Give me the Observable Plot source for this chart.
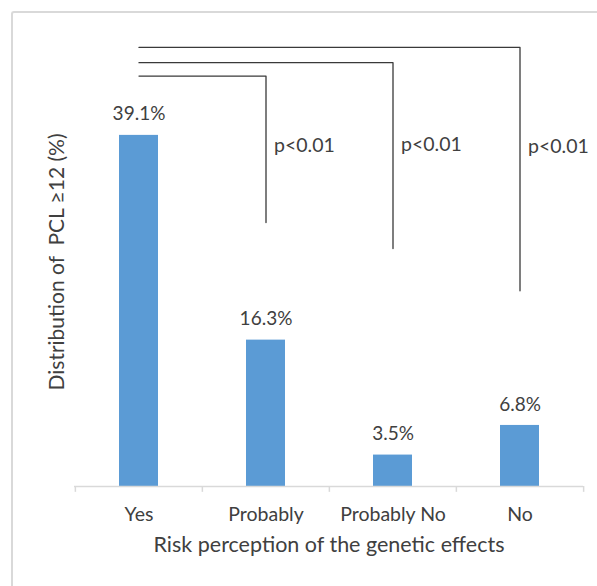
<!DOCTYPE html>
<html>
<head>
<meta charset="utf-8">
<script src="https://cdn.jsdelivr.net/npm/d3@7"></script>
<script src="https://cdn.jsdelivr.net/npm/@observablehq/plot@0.6"></script>
<style>
  html, body { margin: 0; padding: 0; background: #fff; overflow: hidden; }
  #wrap { position: relative; width: 597px; height: 586px; }
  #frame { position: absolute; left: 11px; top: 11px; width: 700px; height: 700px;
           border-left: 2px solid #d9d9d9; border-top: 2px solid #d9d9d9; border-top-left-radius: 3px; }
  #chart { position: absolute; left: 0; top: 0; }
</style>
</head>
<body>
<div id="wrap"><div id="frame"></div><div id="chart"></div></div>
<script>
const categories = ["Yes", "Probably", "Probably No", "No"];
const values = [39.1, 16.3, 3.5, 6.8];
const valueLabels = ["39.1%", "16.3%", "3.5%", "6.8%"];
const bracketFrom = "Yes";
const bracketTargets = ["Probably", "Probably No", "No"];
const bracketTop = [45.7, 47.2, 48.9];
const bracketBottom = [29.4, 26.5, 21.8];
const pLabels = ["p<0.01", "p<0.01", "p<0.01"];
const pLabelY = [37.9, 38.1, 37.8];
const xTitle = "Risk perception of the genetic effects";
const yTitle = "Distribution of  PCL \u226512 (%)";

const W = 597, H = 586, ML = 74, MR = 14, MT = 37, MB = 100;
const bw = (W - ML - MR) / categories.length;

const bars = categories.map((c, i) => ({cat: c, value: values[i], label: valueLabels[i]}));
const bracketPts = [];
bracketTargets.forEach((t, i) => {
  bracketPts.push({cat: bracketFrom, v: bracketTop[i], z: i});
  bracketPts.push({cat: t, v: bracketTop[i], z: i});
  bracketPts.push({cat: t, v: bracketBottom[i], z: i});
});
const pData = bracketTargets.map((t, i) => ({cat: t, v: pLabelY[i], label: pLabels[i]}));

const ink = "#404040";
const chart = Plot.plot({
  width: W, height: H,
  marginLeft: ML, marginRight: MR, marginTop: MT, marginBottom: MB,
  x: {domain: categories, padding: 0, axis: null},
  y: {domain: [0, 50], axis: null},
  style: {fontFamily: "Lato, sans-serif", color: ink, background: "transparent", overflow: "visible"},
  marks: [
    Plot.barY(bars, {x: "cat", y: "value", fill: "#5B9BD5", insetLeft: 44, insetRight: 44}),
    Plot.ruleY([0], {stroke: "#d9d9d9", strokeWidth: 1.5}),
    Plot.ruleX(categories, {x: d => d, y1: 0, y2: -0.65, dx: -bw / 2, stroke: "#d9d9d9", strokeWidth: 1.5}),
    Plot.ruleX(categories.slice(-1), {x: d => d, y1: 0, y2: -0.65, dx: bw / 2, stroke: "#d9d9d9", strokeWidth: 1.5}),
    Plot.text(bars, {x: "cat", y: "value", text: "label", dy: -21, fontSize: 19, fill: ink}),
    Plot.line(bracketPts, {x: "cat", y: "v", z: "z", stroke: "#3a3a3a", strokeWidth: 1.3, curve: "linear"}),
    Plot.text(pData, {x: "cat", y: "v", text: "label", textAnchor: "start", dx: 8, fontSize: 19.5, fill: ink}),
    Plot.text(categories, {x: d => d, y: 0, text: d => d, dy: 28, fontSize: 19.5, fill: ink}),
    Plot.text([xTitle], {frameAnchor: "bottom", textAnchor: "middle", text: d => d, dy: 65, fontSize: 21.5, fill: ink}),
    Plot.text([yTitle], {frameAnchor: "left", textAnchor: "middle", text: d => d, rotate: -90, dx: -17, fontSize: 21, fill: ink})
  ]
});
document.getElementById("chart").appendChild(chart);
</script>
</body>
</html>
